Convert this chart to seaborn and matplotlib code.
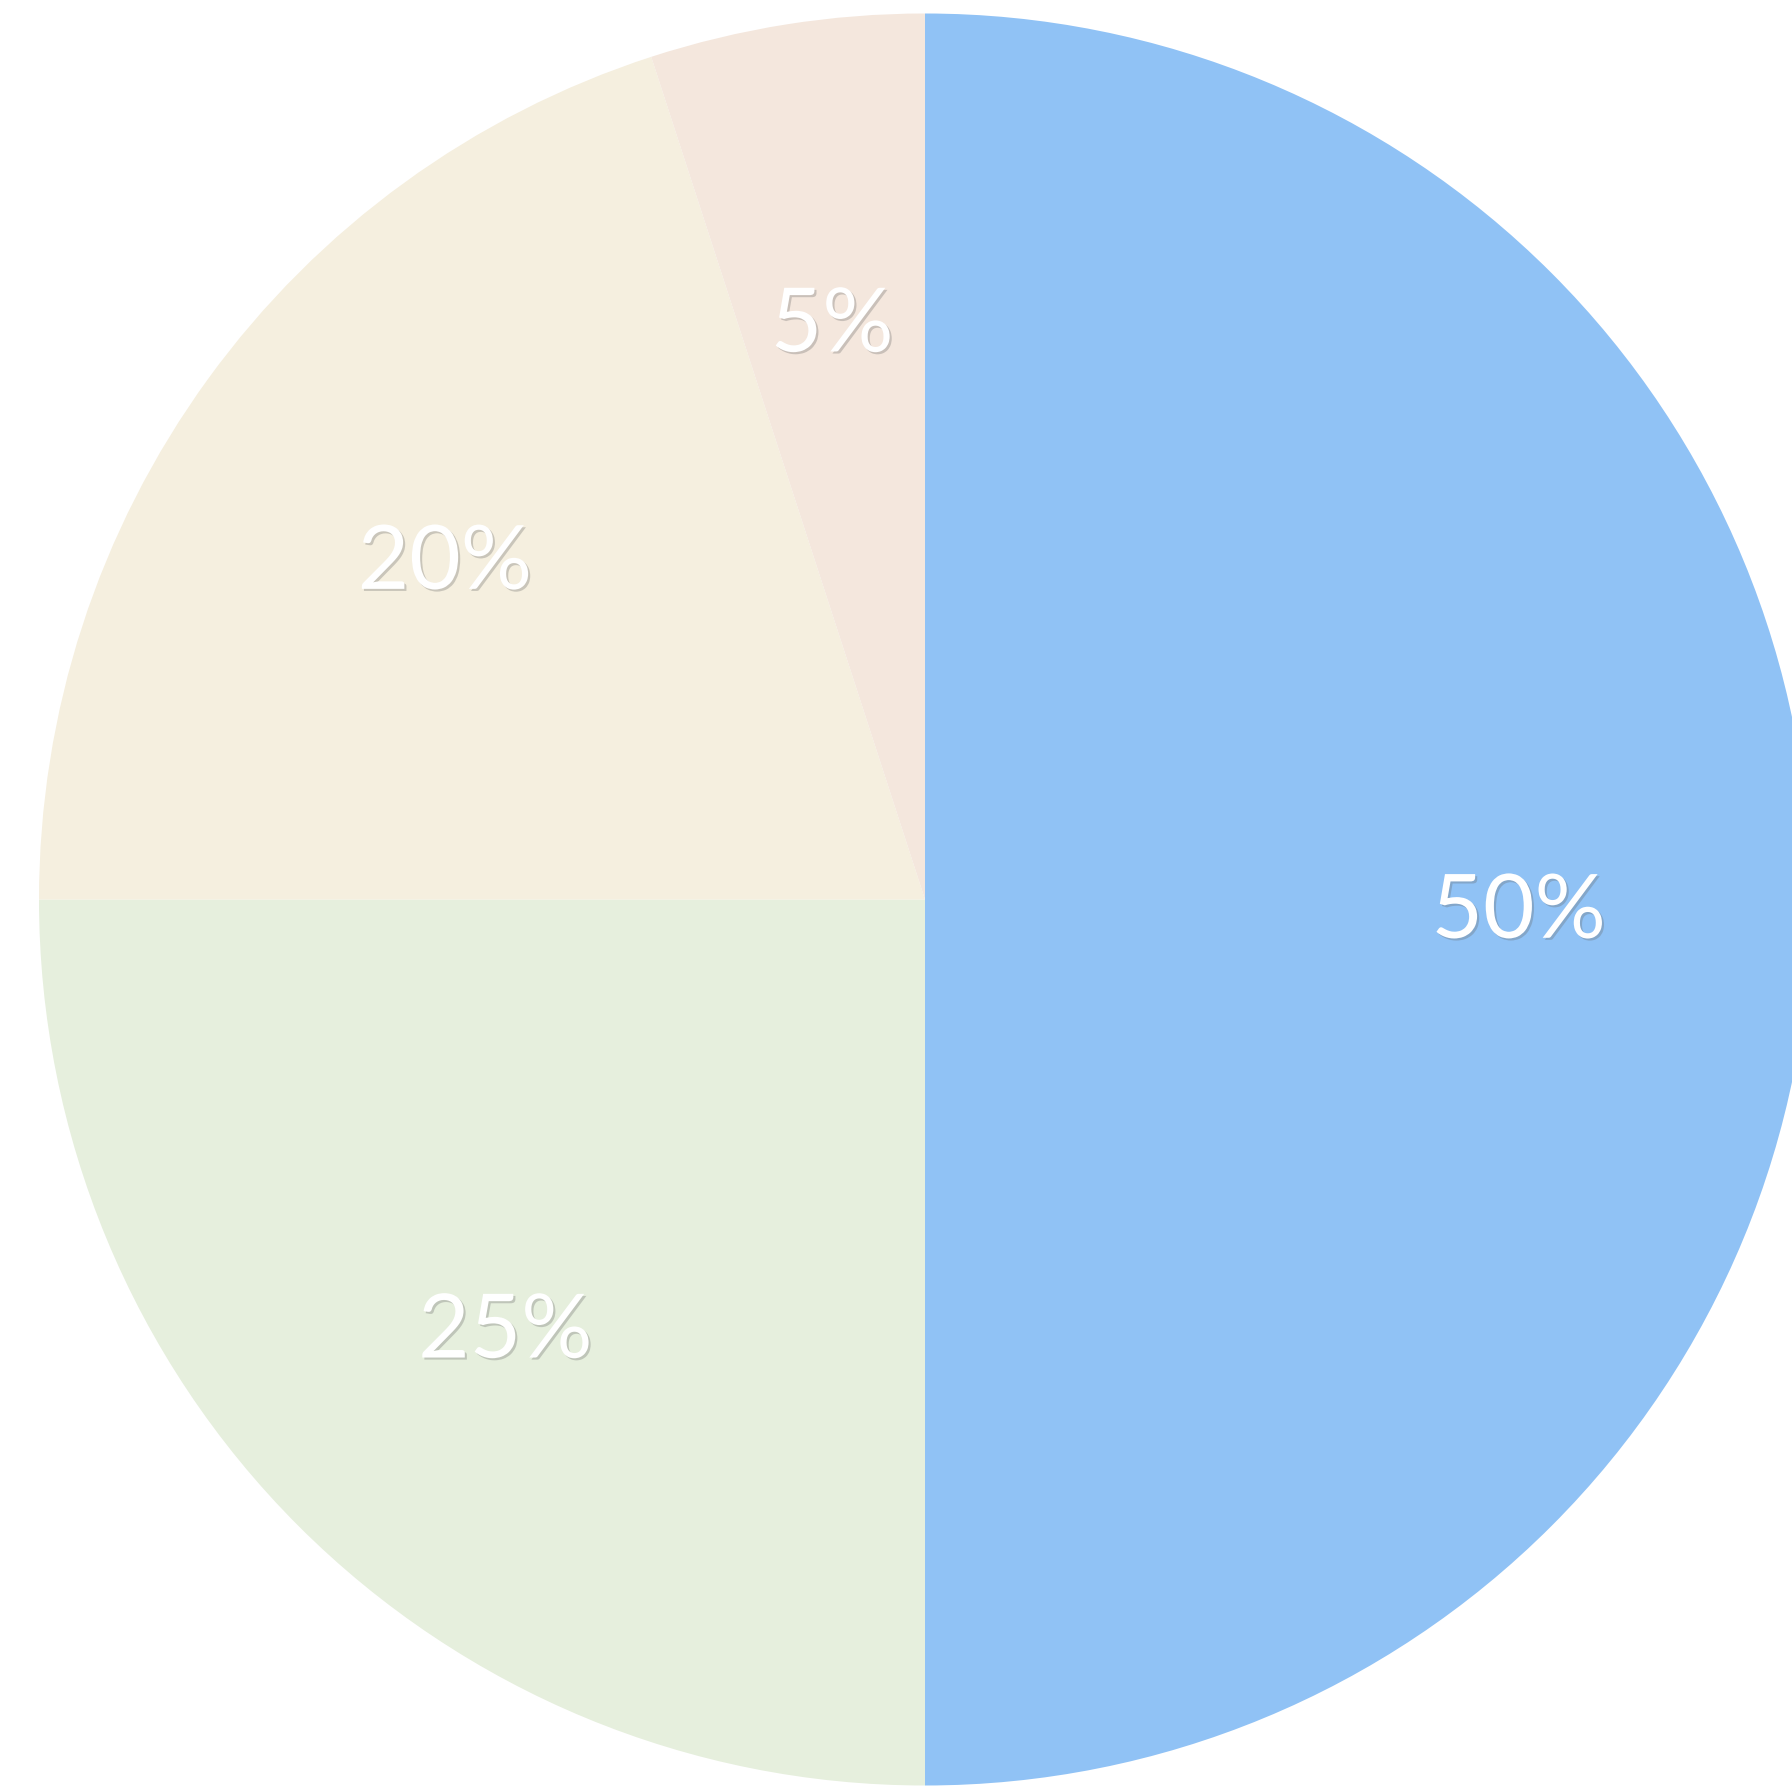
import matplotlib
matplotlib.use("Agg")
import matplotlib.pyplot as plt
import matplotlib.patheffects as pe
import seaborn as sns

# %%
shares = [50, 25, 20, 5]
slice_names = ["A", "B", "C", "D"]
slice_colors = ["#90C2F5", "#E6EFDD", "#F5EFDF", "#F4E7DD"]

sns.set_theme(style="white")
plt.rcParams["font.family"] = ["Lato", "DejaVu Sans"]

fig = plt.figure(figsize=(17.92, 17.86), dpi=100)
ax = fig.add_axes([0, 0, 1, 1])

wedges, _, pct_texts = ax.pie(
    shares,
    labels=None,
    colors=sns.color_palette(slice_colors),
    startangle=90,
    counterclock=False,
    autopct="%1.0f%%",
    pctdistance=0.67,
    radius=1.0,
    wedgeprops=dict(linewidth=0, antialiased=True),
)

for t in pct_texts:
    x, y = t.get_position()
    t.set_position((x, y - 0.015))
    t.set_color("white")
    t.set_fontsize(64)
    t.set_path_effects([
        pe.SimplePatchShadow(offset=(1.5, -1.5), shadow_rgbFace="#666666", alpha=0.3),
        pe.Normal(),
    ])

# place the pie so its centre and radius line up with the reference framing
r_px = 886.0
cx, cy = 925.0, 899.5
ax.set_xlim(-cx / r_px, (1792 - cx) / r_px)
ax.set_ylim(-(1786 - cy) / r_px, cy / r_px)
ax.set_aspect("auto")
ax.axis("off")

fig.savefig("out.png", dpi=100, facecolor="white")
